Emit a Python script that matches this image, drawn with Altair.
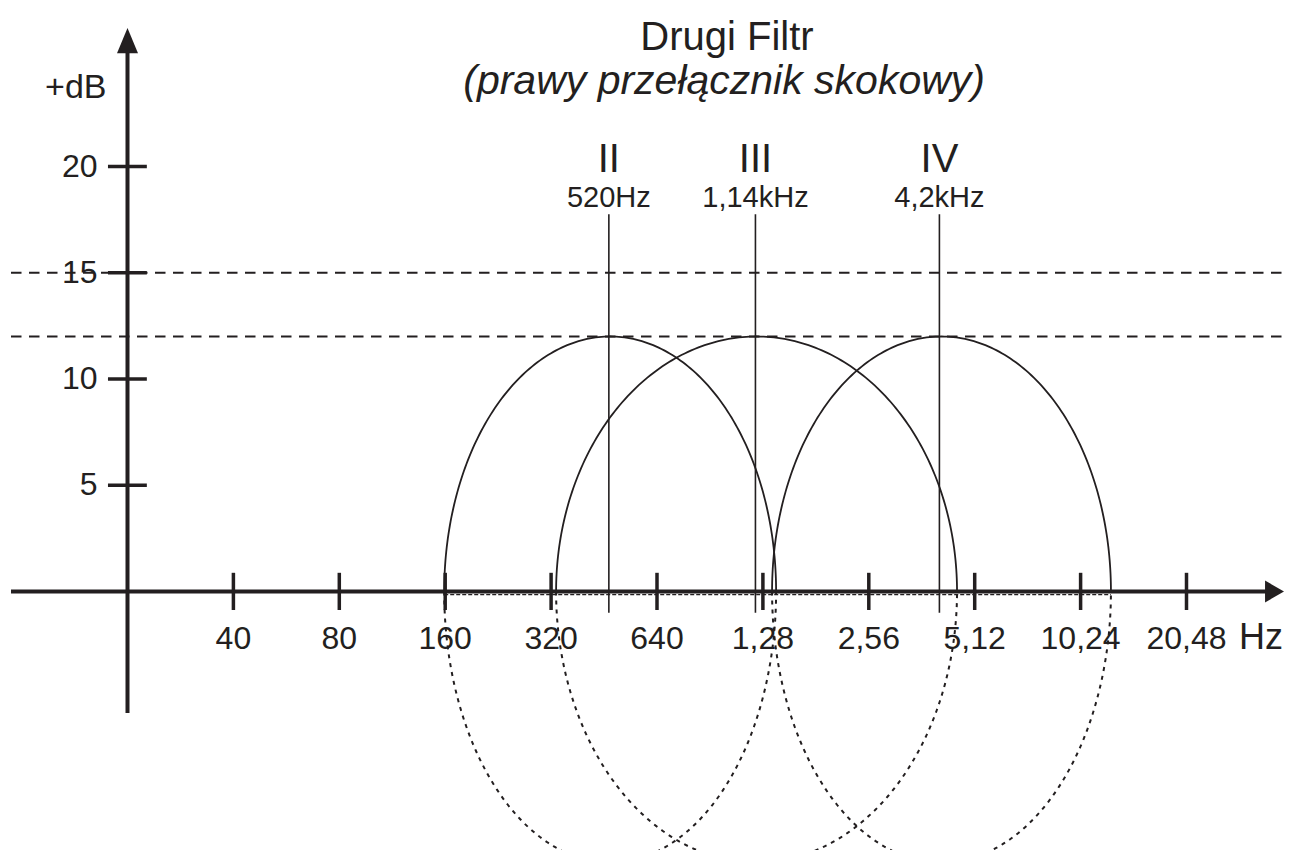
import numpy as np
import pandas as pd
import altair as alt

INK = "#231f20"
FONT = "Liberation Sans"

# ---------------- values ----------------
# frequency axis (octave steps starting from the 20 Hz origin)
tick_hz = [40, 80, 160, 320, 640, 1280, 2560, 5120, 10240, 20480]
tick_labels = ["40", "80", "160", "320", "640", "1,28", "2,56", "5,12", "10,24", "20,48"]
# level axis
db_ticks = [5, 10, 15, 20]
db_labels = ["5", "10", "15", "20"]
# dashed reference levels
ref_levels_db = [12, 15]
# filter bands
band_names = ["II", "III", "IV"]
band_freq_labels = ["520Hz", "1,14kHz", "4,2kHz"]
band_line_hz = [467, 1219, 4064]          # vertical centre lines as drawn
band_centre_hz = [471, 1228, 4120]        # centre of each ellipse as drawn
band_halfwidth_oct = [1.567, 1.893, 1.60] # half width of each ellipse (octaves)
band_peak_db = [12, 12, 12]               # top of the solid half
band_depth_db = [12.75, 12.75, 12.75]     # depth of the dotted half

# ---------------- scales (plot area fills the window) ----------------
W, H = 1276, 842
PX_PER_OCT = 105.9
ORIGIN_X = 119.5       # plot px of the 20 Hz origin
PX_PER_DB = 21.25
ZERO_Y = 583.5         # plot px of 0 dB
x_dom = [20 * 2 ** (-ORIGIN_X / PX_PER_OCT), 20 * 2 ** ((W - ORIGIN_X) / PX_PER_OCT)]
y_dom = [(ZERO_Y - H) / PX_PER_DB, ZERO_Y / PX_PER_DB]

xs = alt.Scale(type="log", base=2, domain=x_dom, nice=False)
ys = alt.Scale(type="linear", domain=y_dom, nice=False, zero=False)


def X(f):
    return alt.X(f, type="quantitative", scale=xs, axis=None)


def Y(f):
    return alt.Y(f, type="quantitative", scale=ys, axis=None)


# ---------------- ellipse outlines from the band parameters ----------------
rows = []
theta = np.linspace(0, np.pi, 181)
for name, c, a, pk, dp in zip(band_names, band_centre_hz, band_halfwidth_oct,
                              band_peak_db, band_depth_db):
    lc = np.log2(c)
    for part, sign, b in (("top", 1, pk), ("bottom", -1, dp)):
        for i, th in enumerate(theta):
            rows.append(dict(band=name, part=part, i=i,
                             hz=2 ** (lc - a * np.cos(th)),
                             db=sign * b * np.sin(th)))
ell = pd.DataFrame(rows)

top = alt.Chart(ell[ell.part == "top"]).mark_line(
    color=INK, strokeWidth=1.8, clip=True
).encode(x=X("hz"), y=Y("db"), detail="band:N", order="i:Q")

bottom = alt.Chart(ell[ell.part == "bottom"]).mark_line(
    color=INK, strokeWidth=2, strokeDash=[4, 5], clip=True
).encode(x=X("hz"), y=Y("db"), detail="band:N", order="i:Q")

# dotted trace just under the frequency axis, from first to last ellipse edge
lo_edge = 2 ** (np.log2(band_centre_hz[0]) - band_halfwidth_oct[0])
hi_edge = 2 ** (np.log2(band_centre_hz[-1]) + band_halfwidth_oct[-1])
base = alt.Chart(pd.DataFrame({"a": [lo_edge], "b": [hi_edge], "db": [-0.15]})).mark_rule(
    color=INK, strokeWidth=1.2, strokeDash=[4, 2]
).encode(x=X("a"), x2="b", y=Y("db"))

# dashed reference levels across the whole width
refs = alt.Chart(pd.DataFrame({"db": ref_levels_db, "a": [9.33] * 2, "b": [x_dom[1]] * 2})).mark_rule(
    color=INK, strokeWidth=2, strokeDash=[10.5, 7.5]
).encode(x=X("a"), x2="b", y=Y("db"))

# vertical centre lines
vlines = alt.Chart(pd.DataFrame({"hz": band_line_hz, "lo": [-1.0] * 3, "hi": [17.75] * 3})).mark_rule(
    color=INK, strokeWidth=1.6
).encode(x=X("hz"), y=Y("lo"), y2="hi")

# axes
X_ARROW_HZ = 36440
x_axis = alt.Chart(pd.DataFrame({"a": [9.33], "b": [X_ARROW_HZ], "db": [0]})).mark_rule(
    color=INK, strokeWidth=4
).encode(x=X("a"), x2="b", y=Y("db"))
y_axis = alt.Chart(pd.DataFrame({"hz": [20], "lo": [-5.72], "hi": [25.9]})).mark_rule(
    color=INK, strokeWidth=4
).encode(x=X("hz"), y=Y("lo"), y2="hi")

x_arrow = alt.Chart(pd.DataFrame({"hz": [X_ARROW_HZ], "db": [0]})).mark_point(
    shape="M1,0L-1,-1.15L-1,1.15Z", filled=True, size=361, color=INK, opacity=1, strokeWidth=0
).encode(x=X("hz"), y=Y("db"))
y_arrow = alt.Chart(pd.DataFrame({"hz": [20], "db": [25.92]})).mark_point(
    shape="M0,-1.2L1,1.2L-1,1.2Z", filled=True, size=441, color=INK, opacity=1, strokeWidth=0
).encode(x=X("hz"), y=Y("db"))

# ticks
x_ticks = alt.Chart(pd.DataFrame({"hz": tick_hz, "lo": [-0.87] * len(tick_hz), "hi": [0.88] * len(tick_hz)})).mark_rule(
    color=INK, strokeWidth=3.5
).encode(x=X("hz"), y=Y("lo"), y2="hi")
y_ticks = alt.Chart(pd.DataFrame({"db": db_ticks, "a": [17.6] * 4, "b": [22.7] * 4})).mark_rule(
    color=INK, strokeWidth=3.5
).encode(x=X("a"), x2="b", y=Y("db"))

# text
x_lab = alt.Chart(pd.DataFrame({"hz": tick_hz, "db": [-2.25] * len(tick_hz), "t": tick_labels})).mark_text(
    font=FONT, fontSize=32, color=INK, align="center", baseline="middle"
).encode(x=X("hz"), y=Y("db"), text="t:N")
hz_lab = alt.Chart(pd.DataFrame({"hz": [33340], "db": [-2.2], "t": ["Hz"]})).mark_text(
    font=FONT, fontSize=36, color=INK, align="center", baseline="middle"
).encode(x=X("hz"), y=Y("db"), text="t:N")
y_lab = alt.Chart(pd.DataFrame({"hz": [20] * 4, "db": db_ticks, "t": db_labels})).mark_text(
    font=FONT, fontSize=32, color=INK, align="right", baseline="middle", dx=-30
).encode(x=X("hz"), y=Y("db"), text="t:N")
db_lab = alt.Chart(pd.DataFrame({"hz": [20], "db": [23.7], "t": ["+dB"]})).mark_text(
    font=FONT, fontSize=34, color=INK, align="right", baseline="middle", dx=-21
).encode(x=X("hz"), y=Y("db"), text="t:N")
num_lab = alt.Chart(pd.DataFrame({"hz": band_line_hz, "db": [20.3] * 3, "t": band_names})).mark_text(
    font=FONT, fontSize=40, color=INK, align="center", baseline="middle"
).encode(x=X("hz"), y=Y("db"), text="t:N")
fq_lab = alt.Chart(pd.DataFrame({"hz": band_line_hz, "db": [18.5] * 3, "t": band_freq_labels})).mark_text(
    font=FONT, fontSize=29, color=INK, align="center", baseline="middle"
).encode(x=X("hz"), y=Y("db"), text="t:N")
title = alt.Chart(pd.DataFrame({"hz": [1012], "db": [26.05], "t": ["Drugi Filtr"]})).mark_text(
    font=FONT, fontSize=40, color=INK, align="center", baseline="middle"
).encode(x=X("hz"), y=Y("db"), text="t:N")
subtitle = alt.Chart(pd.DataFrame({"hz": [993], "db": [23.98], "t": ["(prawy przełącznik skokowy)"]})).mark_text(
    font=FONT, fontSize=41, fontStyle="italic", color=INK, align="center", baseline="middle"
).encode(x=X("hz"), y=Y("db"), text="t:N")

chart = alt.layer(
    refs, top, bottom, base, vlines, x_axis, y_axis, x_arrow, y_arrow,
    x_ticks, y_ticks, x_lab, hz_lab, y_lab, db_lab, num_lab, fq_lab, title, subtitle
).properties(
    width=W, height=H, padding=0,
    autosize=alt.AutoSizeParams(type="none"),
    background="white",
).configure_view(stroke=None)

chart.save("out.html", embed_options={"renderer": "svg", "actions": False})
